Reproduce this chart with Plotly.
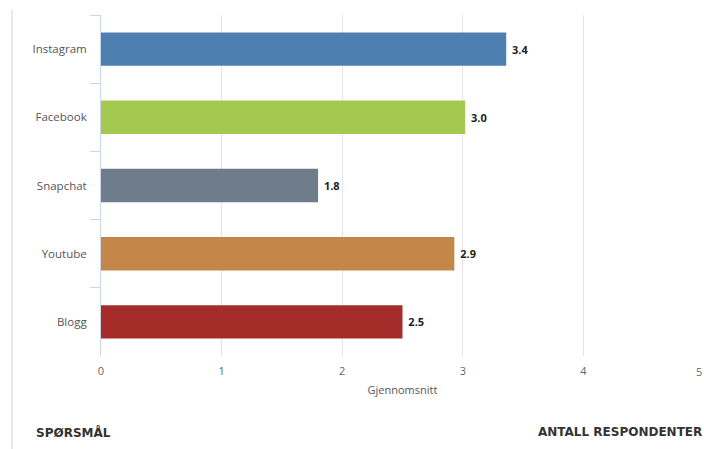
import plotly.graph_objects as go

categories = ["Instagram", "Facebook", "Snapchat", "Youtube", "Blogg"]
values = [3.36, 3.02, 1.80, 2.93, 2.50]
labels = ["3.4", "3.0", "1.8", "2.9", "2.5"]
colors = ["#4e7fb1", "#a5c850", "#6f7c8b", "#c4874a", "#a52d29"]
x_ticks = [0, 1, 2, 3, 4]

fig = go.Figure(go.Bar(
    y=categories, x=values, orientation="h",
    marker=dict(color=colors, line=dict(width=0)),
    text=["\u00a0" + t for t in labels], textposition="outside", cliponaxis=False,
    textfont=dict(family="Open Sans, sans-serif", size=11, color="#222222", weight="bold"),
))

fig.update_layout(
    width=704, height=449,
    margin=dict(l=101, r=0, t=15, b=93),
    plot_bgcolor="white", paper_bgcolor="white",
    bargap=0.51, showlegend=False,
    font=dict(family="Open Sans, sans-serif", size=11, color="#555555"),
    xaxis=dict(range=[0, 5], tickvals=x_ticks, showgrid=True, gridcolor="#e4e4e4",
               zeroline=False, showline=False, ticks="", ticklabelstandoff=7,
               tickfont=dict(size=11, color="#666666"),
               title=dict(text="Gjennomsnitt", font=dict(size=11, color="#555555"), standoff=9)),
    yaxis=dict(categoryorder="array", categoryarray=categories, autorange="reversed",
               showline=True, linecolor="#ccd6eb", linewidth=1,
               ticks="outside", ticklen=10, tickcolor="#ccd6eb", tickson="boundaries",
               ticklabelstandoff=11,
               showgrid=False, tickfont=dict(size=11.5, color="#555555")),
    shapes=[dict(type="line", xref="paper", yref="paper",
                 x0=(12 - 101) / 603, x1=(12 - 101) / 603, y0=1 + 5 / 341, y1=-0.35,
                 line=dict(color="#e0e0e0", width=1.5))],
    annotations=[
        dict(text="5", xref="paper", yref="paper", x=1, y=-(371 - 356) / 341,
             xanchor="right", yanchor="middle", showarrow=False,
             font=dict(size=11, color="#666666")),
        dict(text="<b>SPØRSMÅL</b>", xref="paper", yref="paper",
             x=(34 - 101) / 603, y=-(432 - 356) / 341, xanchor="left", yanchor="middle",
             showarrow=False, font=dict(family="DejaVu Sans, sans-serif", size=12, color="#333333")),
        dict(text="<b>ANTALL RESPONDENTER</b>", xref="paper", yref="paper",
             x=1, y=-(432 - 356) / 341, xanchor="right", yanchor="middle",
             showarrow=False, font=dict(family="DejaVu Sans, sans-serif", size=12, color="#333333")),
    ],
)

fig.write_html("out.html")
